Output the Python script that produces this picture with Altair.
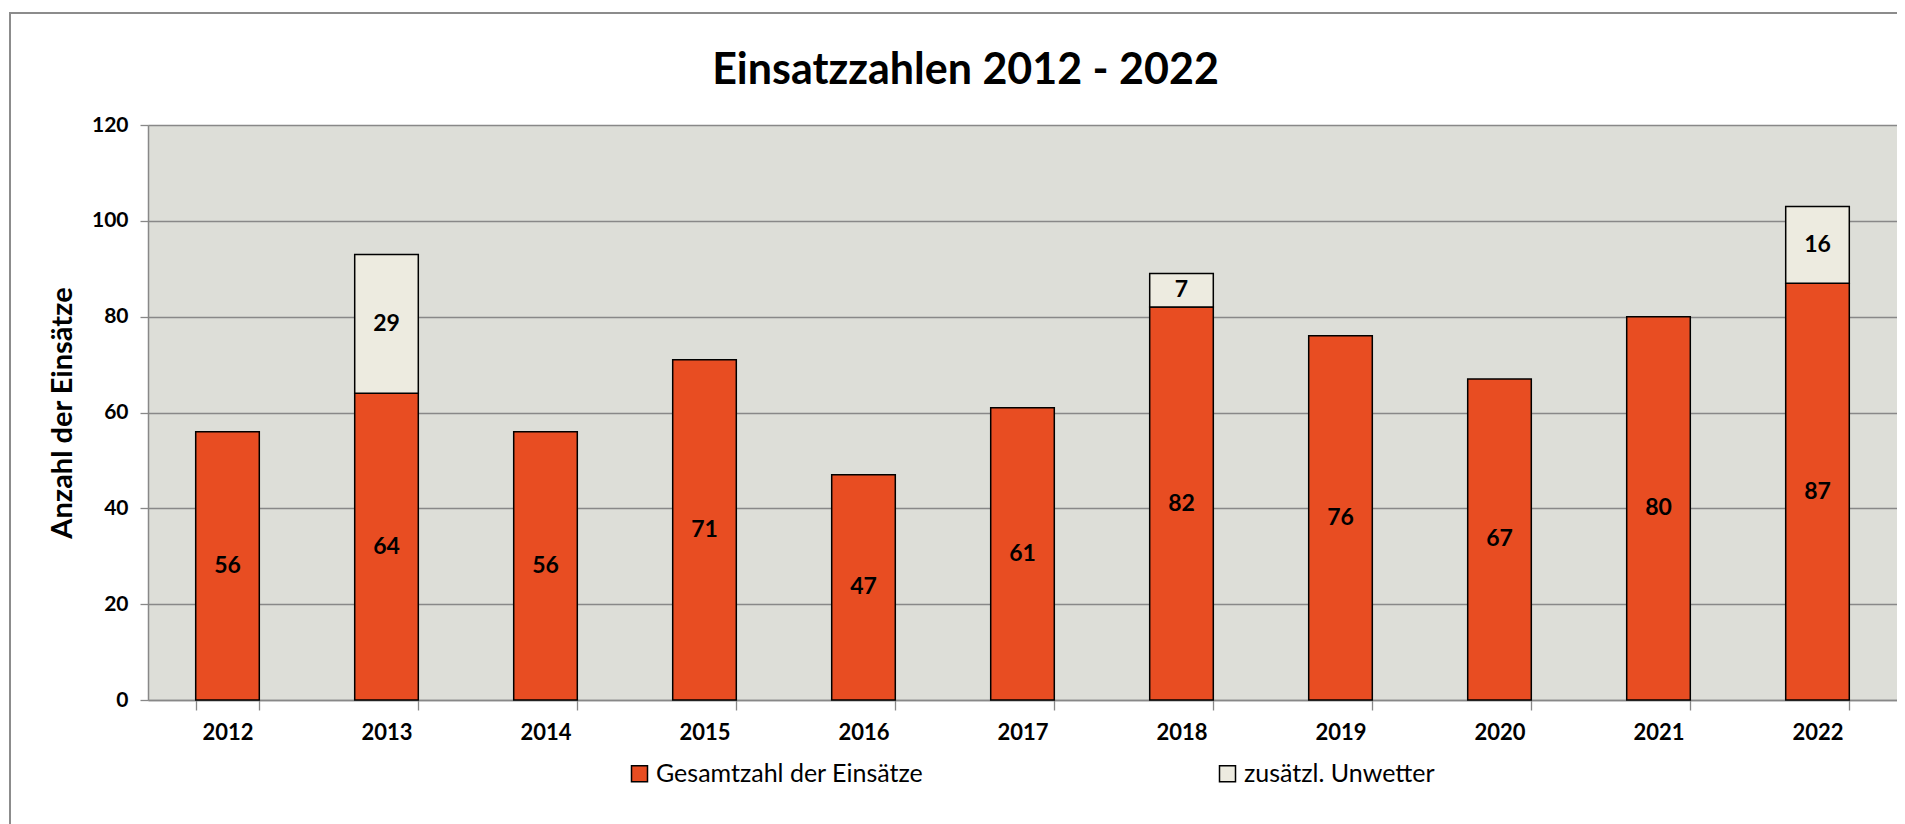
import altair as alt
import pandas as pd

years = ["2012", "2013", "2014", "2015", "2016", "2017", "2018", "2019", "2020", "2021", "2022"]
gesamt = [56, 64, 56, 71, 47, 61, 82, 76, 67, 80, 87]
unwetter = [0, 29, 0, 0, 0, 0, 7, 0, 0, 0, 16]
series = ["Gesamtzahl der Einsätze", "zusätzl. Unwetter"]
colors = ["#E84D22", "#EDEBE0"]
y_ticks = [0, 20, 40, 60, 80, 100, 120]

rows = []
for i, y in enumerate(years):
    rows.append({"year": y, "series": series[0], "value": gesamt[i], "ord": 0})
    rows.append({"year": y, "series": series[1], "value": unwetter[i], "ord": 1})
df = pd.DataFrame(rows)

FONT = "Lato"

base = alt.Chart(df).transform_filter("datum.value > 0")

xenc = alt.X("year:N", title=None, sort=years,
             scale=alt.Scale(paddingInner=0.6, paddingOuter=0.3),
             axis=alt.Axis(labelAngle=0, tickBand="extent", grid=False,
                           labelFont=FONT, labelFontWeight="bold", labelFontSize=22,
                           labelColor="black", labelPadding=12,
                           tickColor="#888888", tickSize=10, tickWidth=1.3,
                           domainColor="#888888", domainWidth=1.5))

bars = base.mark_bar(stroke="black", strokeWidth=1.5).encode(
    x=xenc,
    y=alt.Y("value:Q", stack="zero",
            scale=alt.Scale(domain=[0, 120], nice=False),
            axis=alt.Axis(values=y_ticks, title="Anzahl der Einsätze",
                          titleFont=FONT, titleFontWeight="bold", titleFontSize=29,
                          titleColor="black", titlePadding=14,
                          labelFont=FONT, labelFontWeight="bold", labelFontSize=21,
                          labelColor="black", labelPadding=12,
                          gridColor="#888888", gridWidth=1.3,
                          tickColor="#888888", tickSize=8, tickWidth=1.3,
                          domainColor="#888888", domainWidth=1.5)),
    color=alt.Color("series:N", scale=alt.Scale(domain=series, range=colors),
                    legend=alt.Legend(title=None, orient="none", direction="horizontal",
                                      legendX=479, legendY=636,
                                      symbolType="square", symbolSize=256,
                                      symbolStrokeColor="black", symbolStrokeWidth=1.5,
                                      labelFont=FONT, labelFontSize=25, labelColor="black",
                                      labelOffset=4, columnPadding=291, labelLimit=400)),
    order=alt.Order("ord:Q"),
)

labels = base.transform_stack(
    stack="value", groupby=["year"], as_=["v0", "v1"], sort=[alt.SortField("ord")]
).transform_calculate(
    mid="(datum.v0 + datum.v1) / 2"
).mark_text(font=FONT, fontWeight="bold", fontSize=23, color="black", baseline="middle").encode(
    x=alt.X("year:N", sort=years),
    y=alt.Y("mid:Q"),
    text=alt.Text("value:Q"),
)

frame = alt.Chart(df).mark_rect(filled=False, stroke="#8c8c8c", strokeWidth=1.5, clip=False).encode(
    x=alt.value(-138), x2=alt.value(1900), y=alt.value(-112), y2=alt.value(800)
)

chart = alt.layer(frame, bars, labels).properties(
    width=1749, height=575,
    padding={"left": 140, "top": 117, "right": 0, "bottom": 124},
    autosize=alt.AutoSizeParams(type="none"),
    title=alt.Title("Einsatzzahlen 2012 - 2022", font=FONT, fontSize=43, fontWeight="bold",
                    color="black", anchor="middle", dx=-57, offset=-115, baseline="alphabetic"),
).configure_view(fill="#DDDED8", stroke=None)

chart.save("out.html", embed_options={"renderer": "svg", "actions": False})
